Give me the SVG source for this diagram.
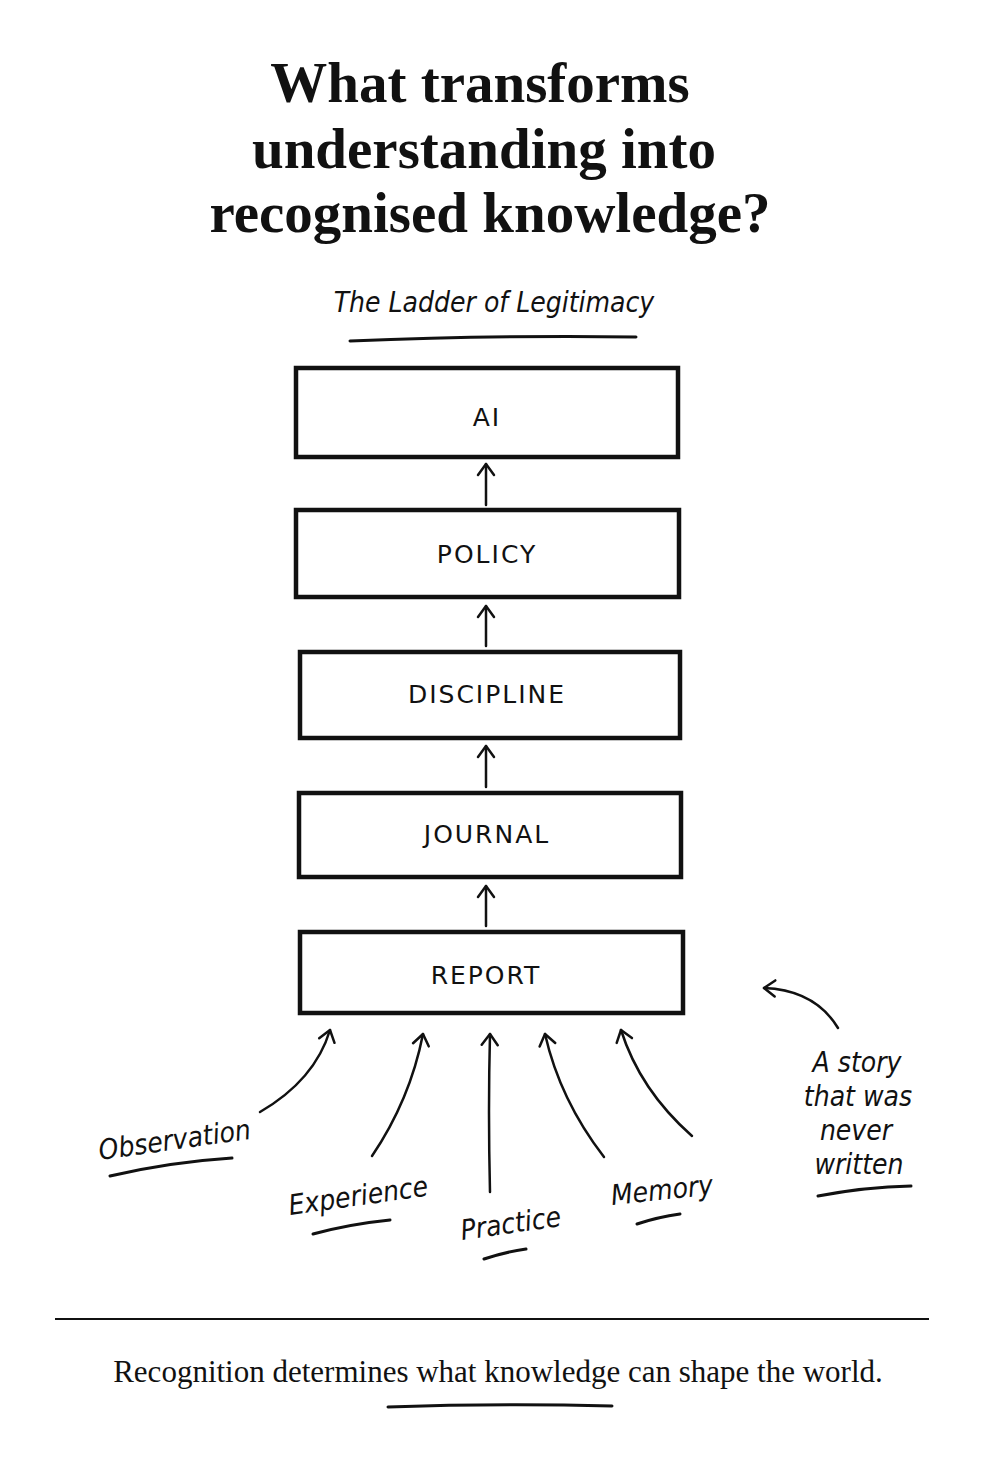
<svg xmlns="http://www.w3.org/2000/svg" width="984" height="1476" viewBox="0 0 984 1476">
<style>
.t{font-family:"Liberation Serif",serif;font-weight:bold;font-size:57px;fill:#111;text-anchor:middle}
.box{fill:#fff;stroke:#111;stroke-width:4.5}
.bl{font-family:"DejaVu Sans",sans-serif;font-size:25px;letter-spacing:2px;fill:#111;text-anchor:middle}
.h{font-family:"DejaVu Sans Condensed","DejaVu Sans",sans-serif;font-style:italic;font-size:28px;fill:#111}
.c{fill:none;stroke:#111;stroke-width:2.5;stroke-linecap:round}
.u{fill:none;stroke:#111;stroke-width:3;stroke-linecap:round}
</style>
<defs><marker id="a" viewBox="0 0 20 20" refX="17" refY="10" markerWidth="20" markerHeight="20" markerUnits="userSpaceOnUse" orient="auto"><path d="M6,2 L17,10 L6,18" fill="none" stroke="#111" stroke-width="2.5" stroke-linecap="round" stroke-linejoin="round"/></marker></defs>
<rect width="984" height="1476" fill="#fff"/>
<g id="title">
<text class="t" x="480" y="102">What transforms</text>
<text class="t" x="484" y="168">understanding into</text>
<text class="t" x="490" y="232">recognised knowledge?</text>
</g>
<g id="subtitle">
<text class="h" x="494" y="312" text-anchor="middle" font-size="31">The Ladder of Legitimacy</text>
<path class="u" d="M350,341 Q500,335 636,337"/>
</g>
<g id="ai"><rect class="box" x="296" y="368" width="382" height="89"/><text class="bl" x="487" y="426" font-size="30">AI</text></g>
<g id="policy"><rect class="box" x="296" y="510" width="383" height="87"/><text class="bl" x="487" y="563">POLICY</text></g>
<g id="discipline"><rect class="box" x="300" y="652" width="380" height="86"/><text class="bl" x="487" y="703">DISCIPLINE</text></g>
<g id="journal"><rect class="box" x="299" y="793" width="382" height="84"/><text class="bl" x="487" y="843">JOURNAL</text></g>
<g id="report"><rect class="box" x="300" y="932" width="383" height="81"/><text class="bl" x="486" y="984">REPORT</text></g>
<g id="connectors">
<path class="c" d="M486,505 L486,464" marker-end="url(#a)"/>
<path class="c" d="M486,646 L486,606" marker-end="url(#a)"/>
<path class="c" d="M486,787 L486,746" marker-end="url(#a)"/>
<path class="c" d="M486,926 L486,886" marker-end="url(#a)"/>
<path class="c" d="M260,1112 Q315,1080 330,1030" marker-end="url(#a)"/>
<path class="c" d="M372,1156 Q410,1100 423,1034" marker-end="url(#a)"/>
<path class="c" d="M490,1192 Q488,1110 490,1034" marker-end="url(#a)"/>
<path class="c" d="M604,1157 Q560,1100 545,1034" marker-end="url(#a)"/>
<path class="c" d="M692,1136 Q640,1090 621,1030" marker-end="url(#a)"/>
<path class="c" d="M838,1028 Q815,990 764,988" marker-end="url(#a)"/>
</g>
<g id="observation"><text class="h" x="100" y="1160" transform="rotate(-8 100 1160)">Observation</text><path class="u" d="M110,1176 Q170,1162 232,1158"/></g>
<g id="experience"><text class="h" x="290" y="1215" transform="rotate(-8 290 1215)">Experience</text><path class="u" d="M313,1234 Q350,1224 390,1220"/></g>
<g id="practice"><text class="h" x="462" y="1240" transform="rotate(-8 462 1240)">Practice</text><path class="u" d="M484,1259 Q505,1252 526,1249"/></g>
<g id="memory"><text class="h" x="612" y="1205" transform="rotate(-6 612 1205)">Memory</text><path class="u" d="M637,1224 Q658,1217 680,1214"/></g>
<g id="story">
<text class="h" x="857" y="1072" text-anchor="middle">A story</text>
<text class="h" x="858" y="1106" text-anchor="middle">that was</text>
<text class="h" x="856" y="1140" text-anchor="middle">never</text>
<text class="h" x="859" y="1174" text-anchor="middle">written</text>
<path class="u" d="M818,1196 Q865,1187 911,1186"/>
</g>
<g id="footer">
<line x1="55" y1="1319" x2="929" y2="1319" stroke="#111" stroke-width="2"/>
<text x="498" y="1382" font-family="Liberation Serif,serif" font-size="31" fill="#111" text-anchor="middle">Recognition determines what knowledge can shape the world.</text>
<path class="u" d="M388,1407 Q500,1403 612,1406" stroke-width="2.5"/>
</g>
</svg>
